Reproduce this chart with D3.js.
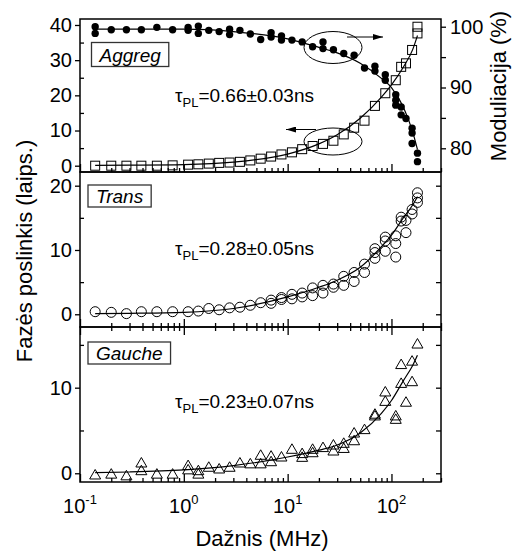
<!DOCTYPE html>
<html>
<head>
<meta charset="utf-8">
<script src="https://cdn.jsdelivr.net/npm/d3@7"></script>
<style>
body { margin: 0; background: #fff; }
svg text { font-family: "Liberation Sans", Arial, sans-serif; fill: #000; }
</style>
</head>
<body>
<div id="chart"></div>
<script>
// data: [frequency MHz, value]
var aggPhase = [[0.14,0],[0.2,0],[0.28,0],[0.39,0],[0.55,0],[0.78,0.1],[1.1,0.3],[1.38,0.4],[1.74,0.6],
  [2.19,0.8],[2.76,0.9],[3.47,1.1],[4.37,1.5],[5.5,2.0],[6.93,2.6],[8.72,3.2],[11,3.8],[13.8,4.7],
  [17.4,5.6],[21.9,6.2],[27.6,7.1],[34.7,8.9],[43.7,10.8],[55,12.8],[69.3,17],[87.2,20.6],[110,24.3],
  [124,28.1],[138,29.1],[158,32.9],[178,37.6],[178,39.5]];
var aggMod = [[0.14,100],[0.14,98.9],[0.2,99.5],[0.28,99.5],[0.39,99.5],[0.55,99.9],[0.78,99.5],
  [1.1,99.9],[1.1,99.4],[1.38,100.1],[1.38,98.9],[1.74,99.4],[2.19,99.2],[2.76,99.6],[2.76,98.7],
  [3.47,99.4],[4.37,98.8],[5.5,97.9],[6.93,99.0],[6.93,98.3],[8.72,98.5],[8.72,97.8],[11,97.8],
  [13.8,97.5],[17.4,96.7],[21.9,97.5],[21.9,96.4],[27.6,96.2],[34.7,95.6],[43.7,95.3],[55,93.2],
  [69.3,93.5],[69.3,92.7],[87.2,92.1],[87.2,91.2],[110,88.8],[110,87.9],[110,87.1],[124,86.8],
  [124,85.5],[138,84.9],[158,83.3],[158,82.5],[158,80.8],[178,79.2],[178,77.8]];
var transPhase = [[0.14,0.4],[0.2,0.3],[0.28,0.1],[0.39,0.4],[0.55,0.4],[0.78,0.4],[1.1,0.4],[1.38,0.5],
  [1.74,0.9],[2.19,0.7],[2.76,1.0],[3.47,1.1],[4.37,1.4],[5.5,1.8],[6.93,2.2],[6.93,1.7],[8.72,2.6],
  [8.72,2.3],[11,3.1],[11,2.4],[13.8,3.3],[13.8,2.7],[17.4,4.1],[17.4,2.9],[21.9,4.5],[21.9,3.3],
  [27.6,4.7],[27.6,4.2],[34.7,5.9],[34.7,4.5],[43.7,6.5],[43.7,5.1],[55,7.8],[55,6.5],[69.3,10.2],
  [69.3,9.6],[69.3,8.7],[87.2,12.0],[87.2,11.4],[87.2,9.8],[110,12.2],[110,11.0],[110,8.9],[124,15.1],
  [124,14.5],[138,14.6],[138,12.7],[158,16.3],[158,15.6],[178,18.9],[178,18.1],[178,17.4]];
var gauchePhase = [[0.14,-0.2],[0.2,-0.1],[0.28,-0.3],[0.39,1.2],[0.39,0.3],[0.55,-0.1],[0.78,-0.1],
  [1.1,0.9],[1.1,0.4],[1.38,0.3],[1.38,-0.1],[1.74,0.7],[2.19,0.5],[2.76,0.7],[3.47,1.2],[4.37,1.1],
  [5.5,2.1],[5.5,1.1],[6.93,2.0],[6.93,1.35],[8.72,1.9],[11,2.8],[13.8,2.3],[13.8,1.86],[17.4,2.8],
  [17.4,2.4],[21.9,3.0],[27.6,3.3],[27.6,2.6],[34.7,3.5],[34.7,2.9],[43.7,4.7],[43.7,3.8],[55,5.1],
  [69.3,6.9],[69.3,6.7],[87.2,9.5],[87.2,8.4],[110,6.7],[110,6.3],[124,12.7],[124,10.5],[138,8.3],
  [158,13.1],[158,10.7],[178,15.1]];

// fitted curves, sampled from the figure
var fitFreq = [0.14, 0.3, 1, 3, 10, 20, 30, 50, 80, 100, 130, 160, 178];
var aggPhaseFit = [0.1, 0.15, 0.3, 1.0, 3.3, 6.2, 8.8, 13.5, 19.5, 23, 28, 33, 37];
var aggModFit = [99.6, 99.6, 99.6, 99.2, 98.0, 96.6, 95.7, 94.0, 91.5, 90.0, 86.8, 82.7, 79.8];
var transFit = [0.1, 0.15, 0.3, 0.9, 2.7, 4.2, 5.3, 7.3, 10.5, 12.3, 15, 17, 18.3];
var gaucheFit = [0.07, 0.15, 0.4, 0.9, 1.9, 2.7, 3.3, 4.7, 7.0, 8.5, 10.8, 12.6, 13.8];

var xTicks = [0.1, 1, 10, 100];
var xTickExp = ["-1", "0", "1", "2"];
var tauLabels = ["=0.66\u00b10.03ns", "=0.28\u00b10.05ns", "=0.23\u00b10.07ns"];
var panelNames = ["Aggreg", "Trans", "Gauche"];

var width = 516, height = 553;
var svg = d3.select("#chart").append("svg")
    .attr("width", width)
    .attr("height", height);

var x = d3.scaleLog().domain([0.1, 300]).range([80, 441]);
var yAgg = d3.scaleLinear().domain([-1.79, 41.7]).range([172, 19]);
var yMod = d3.scaleLinear().domain([76.1, 101.27]).range([172, 19]);
var yTrans = d3.scaleLinear().domain([-1.98, 22.13]).range([327, 172]);
var yGau = d3.scaleLinear().domain([-1.02, 17.09]).range([482, 327]);

var minorX = [];
[0.1, 1, 10, 100].forEach(function (d) {
  for (var k = 2; k <= 9; k++) if (d * k <= 300) minorX.push(d * k);
});

var defs = svg.append("defs");
defs.append("marker").attr("id", "arrow")
    .attr("viewBox", "0 0 10 6").attr("refX", 10).attr("refY", 3)
    .attr("markerWidth", 10).attr("markerHeight", 6).attr("markerUnits", "userSpaceOnUse")
    .attr("orient", "auto")
  .append("path").attr("d", "M0,0L10,3L0,6Z").attr("fill", "#000");

function styleAxis(g, fs) {
  g.select(".domain").remove();
  g.selectAll("line").attr("stroke", "#000").attr("stroke-width", 1.3);
  g.selectAll("text").style("font-size", fs + "px").attr("fill", "#000");
}

function leftAxis(y, majors, minors) {
  svg.append("g").attr("transform", "translate(80,0)")
      .call(d3.axisLeft(y).tickValues(majors).tickSize(5).tickPadding(3).tickFormat(d3.format("d")))
      .call(styleAxis, 20);
  svg.append("g").attr("transform", "translate(80,0)")
      .call(d3.axisLeft(y).tickValues(minors).tickSize(-4).tickFormat(""))
      .call(styleAxis, 20);
}

function bottomTicks(y0, dir) {
  svg.append("g").attr("transform", "translate(0," + y0 + ")")
      .call(d3.axisBottom(x).tickValues(xTicks).tickSize(-8 * dir).tickFormat(""))
      .call(styleAxis, 20);
  svg.append("g").attr("transform", "translate(0," + y0 + ")")
      .call(d3.axisBottom(x).tickValues(minorX).tickSize(-4 * dir).tickFormat(""))
      .call(styleAxis, 20);
}

var line = d3.line()
    .x(function (d) { return x(d[0]); })
    .curve(d3.curveMonotoneX);

function fitLine(vals, y) {
  var pts = fitFreq.map(function (f, i) { return [f, vals[i]]; });
  svg.append("path")
      .attr("d", line.y(function (d) { return y(d[1]); })(pts))
      .attr("fill", "none").attr("stroke", "#000").attr("stroke-width", 1.2);
}

function labelBox(name, bx, by, h) {
  var g = svg.append("g");
  var t = g.append("text").attr("x", bx + 8).attr("y", by + h / 2 + 7)
      .style("font-size", "19px").style("font-style", "italic").text(name);
  var w = t.node().getComputedTextLength();
  g.insert("rect", "text").attr("x", bx).attr("y", by).attr("width", w + 16).attr("height", h)
      .attr("fill", "#fff").attr("stroke", "#333").attr("stroke-width", 1.3);
}

function tauLabel(txt, tx, ty) {
  var t = svg.append("text").attr("x", tx).attr("y", ty).style("font-size", "19px");
  t.append("tspan").text("\u03c4");
  t.append("tspan").attr("dy", 5).style("font-size", "13px").text("PL");
  t.append("tspan").attr("dy", -5).text(txt);
}

// ---- top panel (Aggreg) ----
leftAxis(yAgg, [0, 10, 20, 30, 40], [5, 15, 25, 35]);
svg.append("g").attr("transform", "translate(441,0)")
    .call(d3.axisRight(yMod).tickValues([80, 90, 100]).tickSize(5).tickPadding(4))
    .call(styleAxis, 20);
svg.append("g").attr("transform", "translate(441,0)")
    .call(d3.axisRight(yMod).tickValues([85, 95]).tickSize(5).tickFormat(""))
    .call(styleAxis, 20);
bottomTicks(172, 1);

fitLine(aggModFit, yMod);
fitLine(aggPhaseFit, yAgg);

svg.append("g").selectAll("circle").data(aggMod).enter().append("circle")
    .attr("cx", function (d) { return x(d[0]); })
    .attr("cy", function (d) { return yMod(d[1]); })
    .attr("r", 3.7).attr("fill", "#000");

svg.append("g").selectAll("rect").data(aggPhase).enter().append("rect")
    .attr("x", function (d) { return x(d[0]) - 4.5; })
    .attr("y", function (d) { return yAgg(d[1]) - 4.5; })
    .attr("width", 9).attr("height", 9)
    .attr("fill", "none").attr("stroke", "#000").attr("stroke-width", 1);

// ellipses + arrows pointing to the axes
svg.append("ellipse").attr("cx", 333).attr("cy", 47.5).attr("rx", 29).attr("ry", 16)
    .attr("fill", "none").attr("stroke", "#000").attr("stroke-width", 1);
svg.append("line").attr("x1", 347).attr("y1", 37).attr("x2", 383).attr("y2", 37)
    .attr("stroke", "#000").attr("stroke-width", 1).attr("marker-end", "url(#arrow)");
svg.append("ellipse").attr("cx", 333).attr("cy", 141.5).attr("rx", 29).attr("ry", 13.5)
    .attr("fill", "none").attr("stroke", "#000").attr("stroke-width", 1);
svg.append("line").attr("x1", 316).attr("y1", 129.5).attr("x2", 286).attr("y2", 129.5)
    .attr("stroke", "#000").attr("stroke-width", 1).attr("marker-end", "url(#arrow)");

labelBox(panelNames[0], 91.5, 42.5, 24);
tauLabel(tauLabels[0], 175, 102);

// ---- middle panel (Trans) ----
leftAxis(yTrans, [0, 10, 20], [5, 15]);
svg.append("g").attr("transform", "translate(441,0)")
    .call(d3.axisRight(yTrans).tickValues([0, 5, 10, 15, 20]).tickSize(-5).tickFormat(""))
    .call(styleAxis, 20);
bottomTicks(327, 1);
fitLine(transFit, yTrans);

svg.append("g").selectAll("circle").data(transPhase).enter().append("circle")
    .attr("cx", function (d) { return x(d[0]); })
    .attr("cy", function (d) { return yTrans(d[1]); })
    .attr("r", 5).attr("fill", "none").attr("stroke", "#000").attr("stroke-width", 1);

labelBox(panelNames[1], 88, 185, 22);
tauLabel(tauLabels[1], 175, 255);

// ---- bottom panel (Gauche) ----
leftAxis(yGau, [0, 10], [5, 15]);
svg.append("g").attr("transform", "translate(441,0)")
    .call(d3.axisRight(yGau).tickValues([0, 5, 10, 15]).tickSize(-5).tickFormat(""))
    .call(styleAxis, 20);
bottomTicks(482, 1);
bottomTicks(327, -1);
fitLine(gaucheFit, yGau);

svg.append("g").selectAll("path").data(gauchePhase).enter().append("path")
    .attr("transform", function (d) { return "translate(" + x(d[0]) + "," + yGau(d[1]) + ")"; })
    .attr("d", "M0,-5.5L5.5,4L-5.5,4Z")
    .attr("fill", "none").attr("stroke", "#000").attr("stroke-width", 1);

labelBox(panelNames[2], 88, 342, 22);
tauLabel(tauLabels[2], 175, 408);

// x tick labels (10^n)
xTicks.forEach(function (d, i) {
  var t = svg.append("text").attr("y", 513).style("font-size", "20px");
  t.append("tspan").text("10");
  t.append("tspan").attr("dy", -9).style("font-size", "13px").text(xTickExp[i]);
  var w = t.node().getComputedTextLength();
  t.attr("x", x(d) - w / 2);
});

// panel frames
[[19, 172], [172, 327], [327, 482]].forEach(function (p) {
  svg.append("rect").attr("x", 80).attr("y", p[0]).attr("width", 361).attr("height", p[1] - p[0])
      .attr("fill", "none").attr("stroke", "#000").attr("stroke-width", 1.5);
});

// axis titles
svg.append("text").attr("x", 262).attr("y", 546).attr("text-anchor", "middle")
    .style("font-size", "22px").text("Dažnis (MHz)");
svg.append("text").attr("transform", "translate(32,251) rotate(-90)").attr("text-anchor", "middle")
    .style("font-size", "22px").text("Fazės poslinkis (laips.)");
svg.append("text").attr("transform", "translate(506,86) rotate(-90)").attr("text-anchor", "middle")
    .style("font-size", "22px").text("Moduliacija (%)");
</script>
</body>
</html>
